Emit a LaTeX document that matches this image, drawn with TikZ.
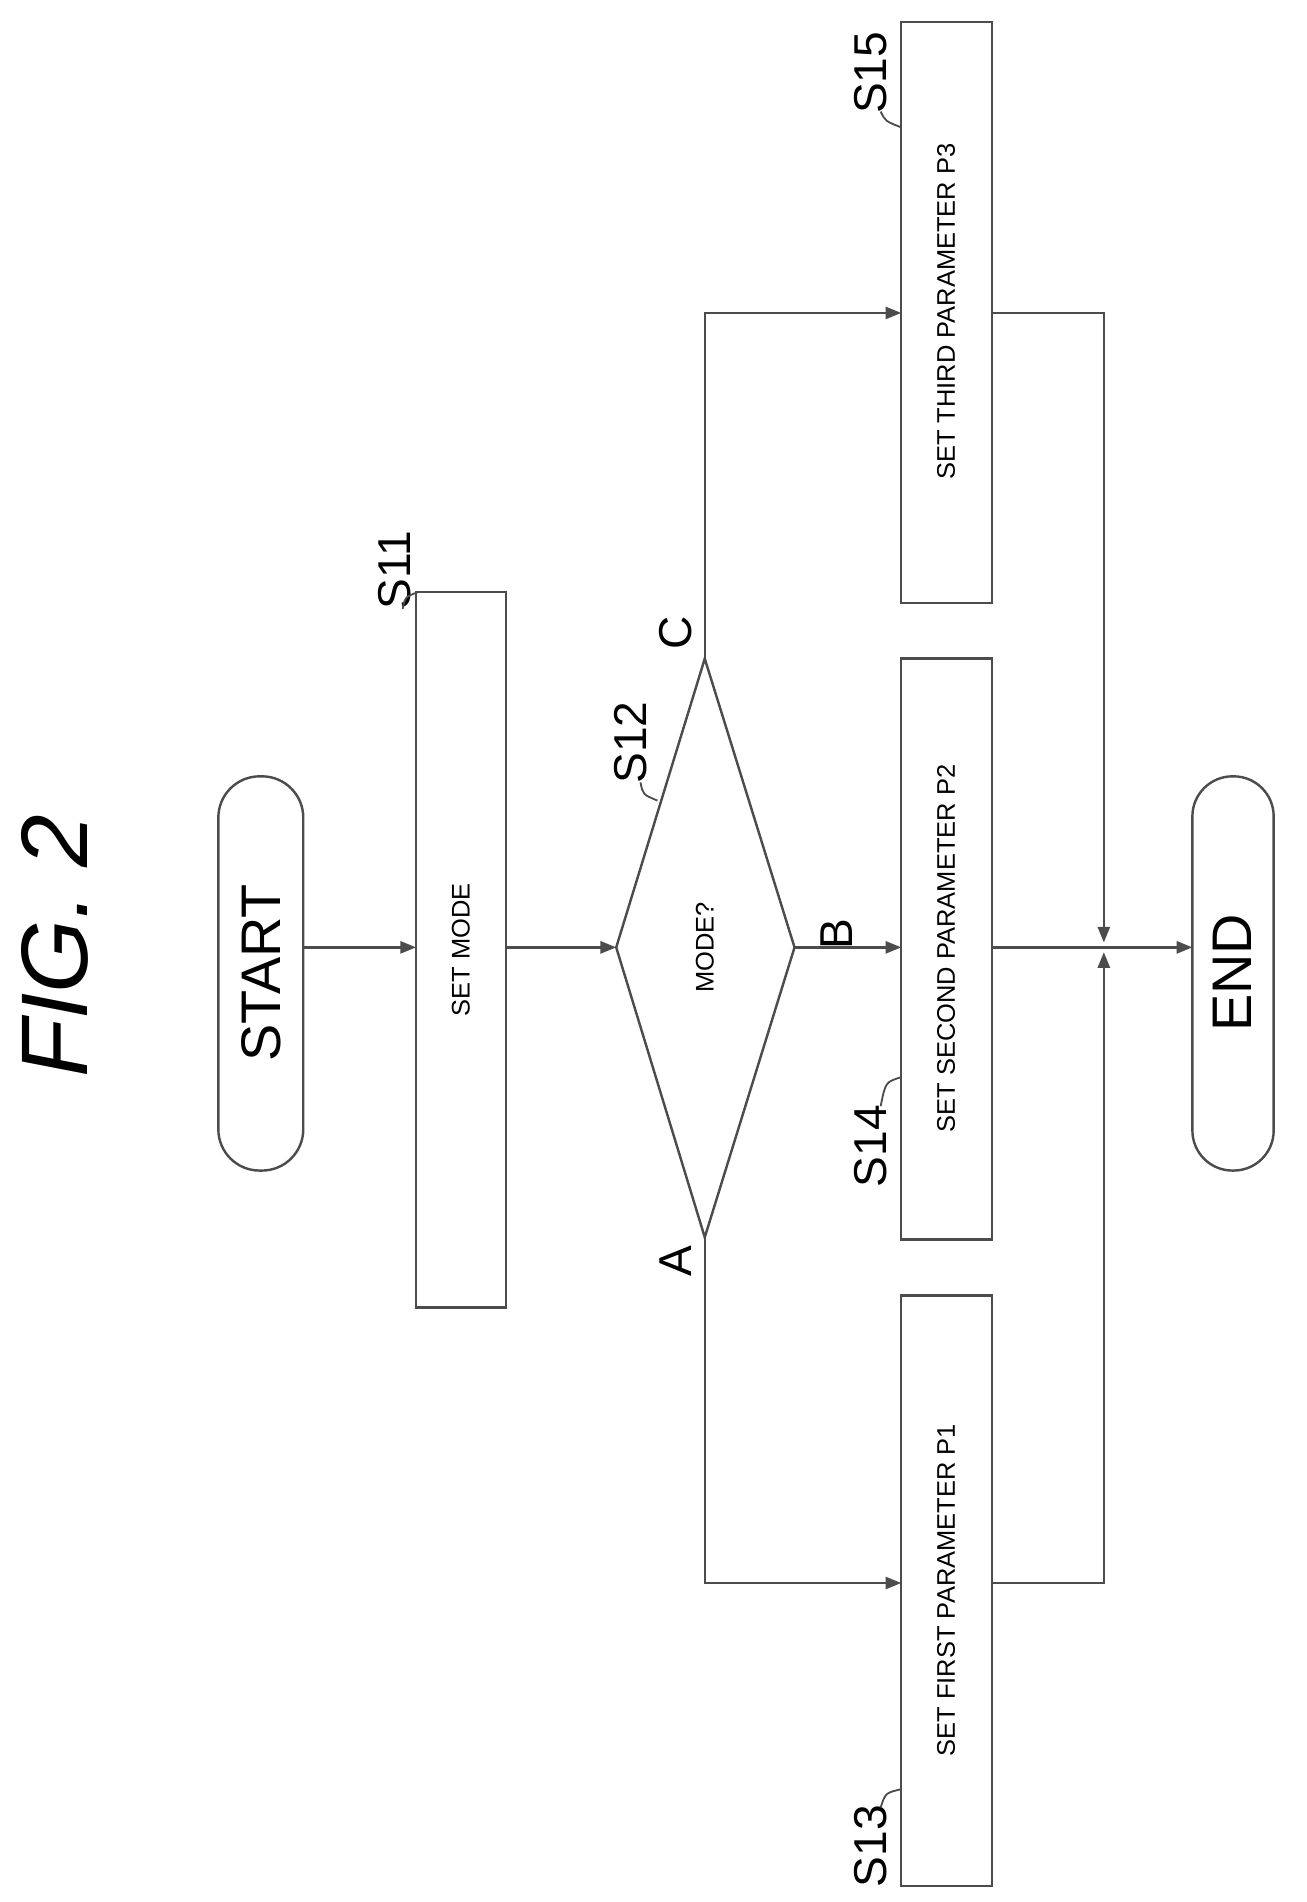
\documentclass[tikz,border=0pt]{standalone}
\usepackage{fontspec}
\setmainfont{Liberation Sans}
\usetikzlibrary{arrows.meta,shapes.geometric}
\begin{document}
\begin{tikzpicture}[x=1pt,y=-1pt,
  ln/.style={line width=2pt,draw=black!70},
  arr/.style={ln,-{Triangle[length=13pt,width=10pt]}},
  box/.style={ln,fill=white},
  btxt/.style={rotate=90,font=\fontsize{21}{21}\selectfont},
  lab/.style={rotate=90,font=\fontsize{38}{38}\selectfont},
  lead/.style={line width=1.5pt,draw=black!70}]
\useasboundingbox (0,0) rectangle (1077,1568);
\node[rotate=90,font=\fontsize{78}{78}\selectfont\itshape] (fig) at (45,780) {FIG. 2};
% terminals
\draw[box,rounded corners=34pt] (180,640) rectangle (250,965);
\node[rotate=90,font=\fontsize{46}{46}\selectfont] (start) at (215,802) {START};
\draw[box,rounded corners=33pt] (983,640) rectangle (1050,965);
\node[rotate=90,font=\fontsize{46}{46}\selectfont] (end) at (1016,802) {END};
% boxes
\draw[box] (343,488) rectangle (417,1078);
\node[btxt] (s11) at (380,783) {SET MODE};
\draw[box] (743,1068) rectangle (818,1555);
\node[btxt] (s13) at (780,1311) {SET FIRST PARAMETER P1};
\draw[box] (743,543) rectangle (818,1022);
\node[btxt] (s14) at (780,782) {SET SECOND PARAMETER P2};
\draw[box] (743,18) rectangle (818,497);
\node[btxt] (s15) at (780,257) {SET THIRD PARAMETER P3};
% diamond
\draw[box] (508,781) -- (581,543) -- (655,781) -- (581,1020) -- cycle;
\node[btxt] (d) at (581,781) {MODE?};
\coordinate (dl) at (508,781); \coordinate (dr) at (655,781);
\coordinate (dt) at (581,543); \coordinate (db) at (581,1020);
% arrows
\draw[arr] (250,781) -- (343,781);
\draw[arr] (417,781) -- (dl);
\draw[arr] (dr) -- (743,781);
\draw[arr] (db) -- (581,1305) -- (743,1305);
\draw[arr] (dt) -- (581,258) -- (743,258);
\draw[ln] (818,1305) -- (910,1305) -- (910,1180);
\draw[arr] (910,1180) -- (910,785);
\draw[arr] (818,258) -- (910,258) -- (910,777);
\draw[arr] (818,781) -- (983,781);
% branch labels
\node[lab] at (557,1040) {A};
\node[lab] at (690,770) {B};
\node[lab] at (557,522) {C};
% step labels
\node[lab] (l11) at (325,470) {S11};
\draw[lead] (332,502) .. controls (334,492) .. (345,488);
\node[lab] (l12) at (520,612) {S12};
\draw[lead] (528,645) .. controls (530,655) .. (542,660);
\node[lab] (l13) at (718,1522) {S13};
\draw[lead] (726,1490) .. controls (730,1478) .. (743,1475);
\node[lab] (l14) at (718,945) {S14};
\draw[lead] (726,912) .. controls (730,892) .. (743,888);
\node[lab] (l15) at (718,60) {S15};
\draw[lead] (726,92) .. controls (730,100) .. (743,105);
\end{tikzpicture}
\end{document}
